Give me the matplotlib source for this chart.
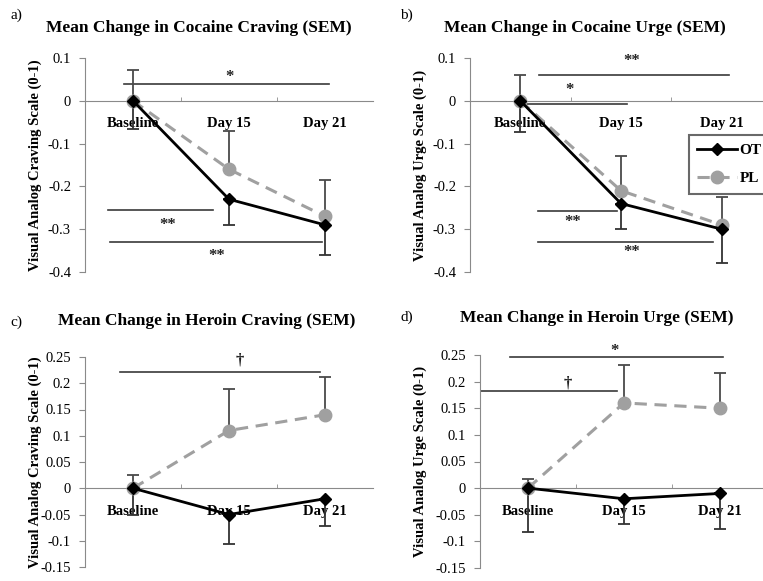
import matplotlib.pyplot as plt

plt.rcParams['font.family'] = ['Liberation Serif', 'DejaVu Serif']

days = ["Baseline", "Day 15", "Day 21"]

# panel a: cocaine craving
coc_crav_ot = [0, -0.23, -0.29]
coc_crav_pl = [0, -0.16, -0.27]
coc_crav_ot_err = [0.065, 0.06, 0.07]
coc_crav_pl_err = [0.072, 0.09, 0.085]

# panel b: cocaine urge
coc_urge_ot = [0, -0.24, -0.30]
coc_urge_pl = [0, -0.21, -0.29]
coc_urge_ot_err = [0.072, 0.06, 0.08]
coc_urge_pl_err = [0.06, 0.08, 0.065]

# panel c: heroin craving
her_crav_ot = [0, -0.05, -0.02]
her_crav_pl = [0, 0.11, 0.14]
her_crav_ot_err = [0.05, 0.057, 0.052]
her_crav_pl_err = [0.025, 0.08, 0.072]

# panel d: heroin urge
her_urge_ot = [0, -0.02, -0.01]
her_urge_pl = [0, 0.16, 0.15]
her_urge_ot_err = [0.083, 0.047, 0.067]
her_urge_pl_err = [0.018, 0.072, 0.067]

W, H = 763, 581
fig = plt.figure(figsize=(W / 100, H / 100), dpi=100)


def px_axes(left, top, width, height):
    return fig.add_axes([left / W, 1 - (top + height) / H, width / W, height / H])


def panel(ax, ot, pl, ot_err, pl_err, ylim, yticks, ylabel, title, letter, sig,
          tx, ty, lx, ly, ylx):
    x = list(range(len(days)))
    n = len(x)
    ax.errorbar(x, pl, yerr=[[0] * n, pl_err], fmt='none', ecolor='#4a4a4a',
                elinewidth=1.3, capsize=4, capthick=1.3, zorder=2)
    ax.errorbar(x, ot, yerr=[ot_err, [0] * n], fmt='none', ecolor='#333333',
                elinewidth=1.3, capsize=4, capthick=1.3, zorder=2)
    ax.plot(x, pl, color='#a0a0a0', ls=(0, (4, 2.5)), lw=2.2, marker='o',
            ms=9, mec='#a0a0a0', label='PL', zorder=3)
    ax.plot(x, ot, color='black', lw=2, marker='D', ms=6, label='OT', zorder=4)

    for x0, x1, yl, sx, sy, s in sig:
        ax.plot([x0, x1], [yl, yl], color='#3a3a3a', lw=1.2, zorder=1)
        ax.text(sx, sy, s, ha='center', va='center', fontsize=12,
                fontweight='bold', color='#222222')

    ax.set_xlim(-0.5, 2.5)
    ax.set_ylim(*ylim)
    ax.set_yticks(yticks)
    ax.set_yticklabels([('%g' % t) for t in yticks], fontsize=10.5)
    ax.spines['top'].set_visible(False)
    ax.spines['right'].set_visible(False)
    ax.spines['left'].set_color('#8a8a8a')
    ax.spines['bottom'].set_color('#8a8a8a')
    ax.spines['bottom'].set_position(('data', 0))
    ax.set_xticks(x)
    ax.set_xticklabels(days, fontsize=10.5, fontweight='bold')
    ax.set_xticks([0.5, 1.5], minor=True)
    ax.tick_params(axis='x', which='major', length=0, pad=12)
    ax.tick_params(axis='x', which='minor', length=3, direction='in', color='#8a8a8a')
    ax.tick_params(axis='y', length=4, color='#8a8a8a', pad=6)
    ax.patch.set_alpha(0)

    pos = ax.get_position()
    fig.text(ylx / W, (pos.y0 + pos.y1) / 2, ylabel, rotation=90, ha='center',
             va='center', fontsize=10.5, fontweight='bold')
    fig.text(tx / W, 1 - ty / H, title, ha='center', va='center', fontsize=12.5,
             fontweight='bold')
    fig.text(lx / W, 1 - ly / H, letter, ha='center', va='center', fontsize=11)


ax_a = px_axes(85, 58, 288, 214)
panel(ax_a, coc_crav_ot, coc_crav_pl, coc_crav_ot_err, coc_crav_pl_err,
      (-0.4, 0.1), [0.1, 0, -0.1, -0.2, -0.3, -0.4],
      "Visual Analog Craving Scale (0-1)", "Mean Change in Cocaine Craving (SEM)", "a)",
      [(-0.09, 2.04, 0.04, 1.0, 0.055, "*"),
       (-0.26, 0.83, -0.255, 0.36, -0.29, "**"),
       (-0.24, 1.97, -0.33, 0.875, -0.362, "**")],
      199, 28, 16, 15, 35)

ax_b = px_axes(470, 58, 302, 214)
panel(ax_b, coc_urge_ot, coc_urge_pl, coc_urge_ot_err, coc_urge_pl_err,
      (-0.4, 0.1), [0.1, 0, -0.1, -0.2, -0.3, -0.4],
      "Visual Analog Urge Scale (0-1)", "Mean Change in Cocaine Urge (SEM)", "b)",
      [(0.19, 2.07, 0.061, 1.11, 0.092, "**"),
       (0.05, 1.06, -0.008, 0.49, 0.025, "*"),
       (0.18, 0.96, -0.257, 0.52, -0.284, "**"),
       (0.18, 1.91, -0.33, 1.11, -0.353, "**")],
      585, 28, 406, 15, 420)
handles, labels = ax_b.get_legend_handles_labels()
leg = ax_b.legend(handles[::-1], labels[::-1], loc='upper left',
                  bbox_to_anchor=(219 / 302, 1 - 77 / 214), frameon=True,
                  fancybox=False, fontsize=11, handlelength=2.6,
                  borderpad=0.55, labelspacing=0.95, handletextpad=0.15,
                  borderaxespad=0)
leg.get_frame().set_edgecolor('#444444')
leg.get_frame().set_linewidth(1.5)
for t in leg.get_texts():
    t.set_fontweight('bold')

ax_c = px_axes(85, 357, 288, 210)
panel(ax_c, her_crav_ot, her_crav_pl, her_crav_ot_err, her_crav_pl_err,
      (-0.15, 0.25), [0.25, 0.2, 0.15, 0.1, 0.05, 0, -0.05, -0.1, -0.15],
      "Visual Analog Craving Scale (0-1)", "Mean Change in Heroin Craving (SEM)", "c)",
      [(-0.14, 1.95, 0.222, 1.11, 0.243, "\u2020")],
      207, 321, 16, 322, 35)

ax_d = px_axes(480, 355, 288, 213)
panel(ax_d, her_urge_ot, her_urge_pl, her_urge_ot_err, her_urge_pl_err,
      (-0.15, 0.25), [0.25, 0.2, 0.15, 0.1, 0.05, 0, -0.05, -0.1, -0.15],
      "Visual Analog Urge Scale (0-1)", "Mean Change in Heroin Urge (SEM)", "d)",
      [(-0.19, 2.03, 0.246, 0.906, 0.258, "*"),
       (-0.5, 0.93, 0.182, 0.41, 0.196, "\u2020")],
      597, 318, 407, 317, 420)

fig.savefig("out.png", dpi=100)
